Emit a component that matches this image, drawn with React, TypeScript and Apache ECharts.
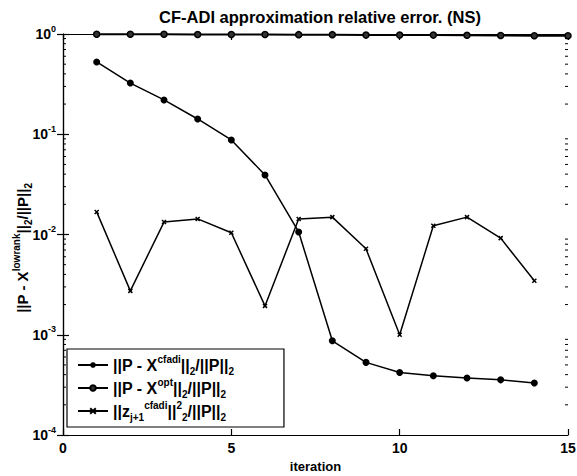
import React, { useEffect, useRef } from "react";
import * as echarts from "echarts";

const iterations = [1, 2, 3, 4, 5, 6, 7, 8, 9, 10, 11, 12, 13, 14];
const optIterations = [1, 2, 3, 4, 5, 6, 7, 8, 9, 10, 11, 12, 13, 14, 15];
const cfadiErr = [0.526, 0.324, 0.22, 0.142, 0.0877, 0.0393, 0.0106, 0.00087, 0.00053, 0.00042, 0.00039, 0.00037, 0.000355, 0.00033];
const optErr = [0.995, 0.995, 0.995, 0.99, 0.99, 0.99, 0.985, 0.985, 0.975, 0.975, 0.975, 0.97, 0.965, 0.96, 0.96];
const zErr = [0.0168, 0.00274, 0.0133, 0.0143, 0.0104, 0.00194, 0.0143, 0.0149, 0.0072, 0.001, 0.0122, 0.0149, 0.0092, 0.00345];
const seriesNames = ["cfadi", "opt", "z"];

const minorTickValues: number[] = [];
for (let e = -4; e < 0; e++) {
  for (let m = 2; m <= 9; m++) minorTickValues.push(m * Math.pow(10, e));
}

const FONT = "Liberation Sans, Arial, sans-serif";
const XSYM = "path://M0,0L10,10M10,0L0,10";

export default function App() {
  const ref = useRef<HTMLDivElement>(null);
  useEffect(() => {
    if (!ref.current) return;
    const chart = echarts.init(ref.current, null, { renderer: "svg" });
    const lbl = { fontFamily: FONT, fontWeight: "bold" as const, fill: "#000", color: "#000" };
    const mkRich = (main: number, small: number, lh: number) => ({
      m: { ...lbl, fontSize: main, lineHeight: lh, verticalAlign: "middle" as const },
      s: { ...lbl, fontSize: small, lineHeight: small + 4, verticalAlign: "top" as const },
      u: { ...lbl, fontSize: small, lineHeight: small + 4, verticalAlign: "bottom" as const },
    });
    const tickRich = mkRich(14, 9, 20);
    const legendRich = mkRich(16, 10, 22);
    const nameRich = mkRich(15, 10, 22);
    const legendLabels: Record<string, string> = {
      cfadi: "{m|||P - X}{s|cfadi}{m|||}{u|2}{m|/||P||}{u|2}",
      opt: "{m|||P - X}{s|opt}{m|||}{u|2}{m|/||P||}{u|2}",
      z: "{m|||z}{u|j+1}{s|cfadi}{m|||}{s|2}{u|2}{m|/||P||}{u|2}",
    };
    const axisCommon = {
      axisLine: { show: true, lineStyle: { color: "#000", width: 1.2 } },
      axisTick: { show: true, inside: true, length: 6, lineStyle: { color: "#000", width: 1.2 } },
      splitLine: { show: false },
    };
    chart.setOption({
      animation: false,
      backgroundColor: "#fff",
      title: {
        text: "CF-ADI approximation relative error. (NS)",
        left: 315,
        textAlign: "center",
        top: 3,
        textStyle: { ...lbl, fontSize: 16.5 },
      },
      grid: { left: 63, right: 9, top: 34, bottom: 41, containLabel: false, outerBoundsMode: "none" },
      graphic: [
        {
          type: "text",
          x: 22,
          y: 248,
          rotation: Math.PI / 2,
          style: {
            text: "{m|||P - X}{s|lowrank}{m|||}{u|2}{m|/||P||}{u|2}",
            rich: nameRich,
            align: "center",
            verticalAlign: "middle",
          },
        },
      ],
      legend: {
        data: seriesNames,
        orient: "vertical",
        left: 67,
        top: 349,
        itemGap: 1,
        itemWidth: 30,
        itemHeight: 7,
        itemTextGap: 8,
        padding: [5, 50, 5, 10],
        borderColor: "#000",
        borderWidth: 1.2,
        backgroundColor: "#fff",
        formatter: (name: string) => legendLabels[name],
        textStyle: { rich: legendRich },
      },
      xAxis: [
        {
          type: "value",
          min: 0,
          max: 15,
          interval: 5,
          name: "iteration",
          nameLocation: "middle",
          nameGap: 25,
          nameTextStyle: { ...lbl, fontSize: 13 },
          axisLabel: { ...lbl, fontSize: 14, margin: 6 },
          ...axisCommon,
        },
        {
          type: "value",
          position: "top",
          min: 0,
          max: 15,
          interval: 5,
          axisLabel: { show: false },
          ...axisCommon,
        },
      ],
      yAxis: [
        {
          type: "log",
          logBase: 10,
          min: 1e-4,
          max: 1,
          axisLabel: {
            margin: 7,
            formatter: (v: number) => `{m|10}{s|${Math.round(Math.log10(v))}}`,
            rich: tickRich,
          },
          ...axisCommon,
        },
        {
          type: "log",
          logBase: 10,
          min: 1e-4,
          max: 1,
          position: "right",
          axisLabel: { show: false },
          ...axisCommon,
        },
      ],
      series: [
        {
          name: "cfadi",
          type: "line",
          data: iterations.map((x, i) => [x, cfadiErr[i]]),
          symbol: "circle",
          symbolSize: 7,
          lineStyle: { color: "#000", width: 1.5 },
          itemStyle: { color: "#000" },
        },
        {
          name: "opt",
          type: "line",
          data: optIterations.map((x, i) => [x, optErr[i]]),
          symbol: "circle",
          symbolSize: 6,
          lineStyle: { color: "#000", width: 2 },
          itemStyle: { color: "#333", borderColor: "#000", borderWidth: 1.5 },
        },
        {
          name: "z",
          type: "line",
          data: iterations.map((x, i) => [x, zErr[i]]),
          symbol: XSYM,
          symbolSize: 4,
          lineStyle: { color: "#000", width: 1.5 },
          itemStyle: { color: "#000", borderColor: "#000", borderWidth: 1.5 },
        },
        {
          name: "minorTicks",
          type: "custom",
          silent: true,
          data: minorTickValues.map((v) => [v]),
          renderItem: (params: any, api: any) => {
            const v = api.value(0);
            const l = api.coord([0, v]);
            const r = api.coord([15, v]);
            return {
              type: "group",
              children: [
                { type: "line", shape: { x1: l[0], y1: l[1], x2: l[0] + 3, y2: l[1] }, style: { stroke: "#000", lineWidth: 1 } },
                { type: "line", shape: { x1: r[0], y1: r[1], x2: r[0] - 3, y2: r[1] }, style: { stroke: "#000", lineWidth: 1 } },
              ],
            };
          },
          encode: { y: 0 },
        },
      ],
    });
    return () => chart.dispose();
  }, []);
  return <div ref={ref} style={{ width: 577, height: 476, position: "absolute", left: 0, top: 0 }} />;
}
